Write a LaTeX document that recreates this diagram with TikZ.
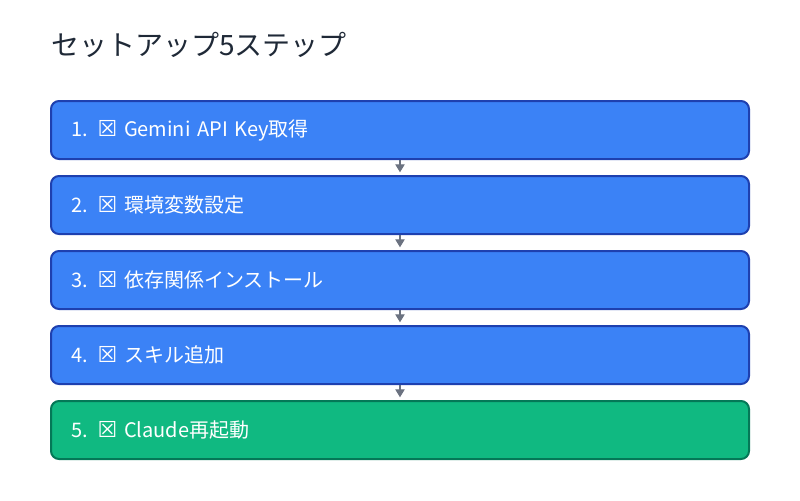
\documentclass[tikz,border=0pt]{standalone}
\usepackage{fontspec}
\setmainfont{Noto Sans CJK JP}
\newfontfamily\symfont{DejaVu Sans}
\usetikzlibrary{arrows.meta}
\definecolor{bluefill}{HTML}{3B82F6}
\definecolor{blueedge}{HTML}{1E40AF}
\definecolor{greenfill}{HTML}{10B981}
\definecolor{greenedge}{HTML}{047857}
\definecolor{titlegray}{HTML}{1F2937}
\definecolor{arrowgray}{HTML}{6B7280}
\newcommand{\tofu}{{\symfont\fontsize{16.5}{16}\selectfont ☒}}
\tikzset{
  stepbox/.style={draw=blueedge, fill=bluefill, line width=1.5pt, rounded corners=6pt,
    text width=493.5pt, inner xsep=15pt, minimum height=43.5pt, align=left,
    text=white, font=\fontsize{15}{18}\selectfont},
  lastbox/.style={stepbox, draw=greenedge, fill=greenfill},
  flow/.style={draw=arrowgray, line width=0.9pt, -{Triangle[width=7pt,length=6pt]}, shorten >=2pt}
}
\begin{document}
\begin{tikzpicture}[x=0.75pt,y=-0.75pt]
\useasboundingbox (0,0) rectangle (800,500);
\node[anchor=base west, text=titlegray, font=\fontsize{21}{24}\selectfont, inner sep=0pt] (title) at (51,55) {セットアップ5ステップ};
% steps
\node[stepbox] (s1) at (400,130) {1. \tofu\ Gemini API Key取得};
\node[stepbox] (s2) at (400,205) {2. \tofu\ 環境変数設定};
\node[stepbox] (s3) at (400,280) {3. \tofu\ 依存関係インストール};
\node[stepbox] (s4) at (400,355) {4. \tofu\ スキル追加};
\node[lastbox] (s5) at (400,430) {5. \tofu\ Claude再起動};
\foreach \a/\b in {s1/s2,s2/s3,s3/s4,s4/s5}
  \draw[flow] (\a.south) -- (\b.north);
\end{tikzpicture}
\end{document}
